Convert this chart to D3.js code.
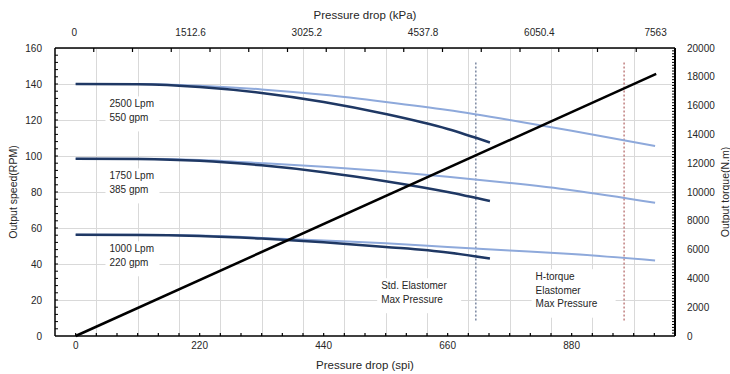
<!DOCTYPE html>
<html>
<head>
<meta charset="utf-8">
<script src="https://cdn.jsdelivr.net/npm/d3@7"></script>
<style>
  body { margin: 0; background: #fff; }
  text { font-family: "Liberation Sans", Arial, sans-serif; fill: #262626; }
</style>
</head>
<body>
<div id="chart"></div>
<script>
// pressure drop (spi) points along each curve
const stdPressure = [0, 110, 220, 330, 440, 550, 660, 735];
const htPressure = [0, 110, 220, 330, 440, 550, 660, 770, 880, 1028];

// output speed (RPM), standard elastomer (dark) and H-torque (light)
const std2500 = [140, 139.8, 138.3, 135, 130, 123.3, 115, 107.5];
const std1750 = [98.5, 98.3, 97.3, 94.8, 91, 86, 80, 75];
const std1000 = [56.2, 56.1, 55.5, 54.1, 52.1, 49.5, 46.4, 43];
const ht2500 = [140, 140, 139, 137, 134, 130, 125.5, 120, 114, 105.5];
const ht1750 = [98.5, 98.5, 97.8, 96, 94, 91.5, 88.5, 85, 81, 74];
const ht1000 = [56.2, 56.2, 55.8, 54.5, 53, 51.5, 49.5, 47.5, 45.5, 42];

// output torque (N.m)
const torquePressure = [0, 1030];
const torqueValues = [0, 18200];

// max pressure markers (spi)
const maxPressure = [710, 973];

const bottomTicks = [0, 220, 440, 660, 880];
const topTicks = [0, 1512.6, 3025.2, 4537.8, 6050.4, 7563];
const leftTicks = d3.range(0, 161, 20);
const rightTicks = d3.range(0, 20001, 2000);

const flowLabels = [
  { lines: ['2500 Lpm', '550 gpm'], x: 60, y: 127 },
  { lines: ['1750 Lpm', '385 gpm'], x: 60, y: 87 },
  { lines: ['1000 Lpm', '220 gpm'], x: 60, y: 46.5 }
];
const noteLabels = [
  { lines: ['Std. Elastomer', 'Max Pressure'], x: 542, y: 26 },
  { lines: ['H-torque', 'Elastomer', 'Max Pressure'], x: 816, y: 31 }
];

const width = 730, height = 374;
const margin = { left: 55, right: 55, top: 48, bottom: 38 };
const x0 = margin.left, x1 = width - margin.right;
const y0 = height - margin.bottom, y1 = margin.top;

const svg = d3.select('#chart').append('svg')
  .attr('width', width)
  .attr('height', height);

// bottom axis: labels sit half a grid step in, 220 spi every 3 steps
const step = 220 / 3;
const x = d3.scaleLinear().domain([-step / 2, -step / 2 + 15 * step]).range([x0, x1]);
const kStep = 1512.6 / 3;
const xTop = d3.scaleLinear().domain([-kStep / 2, -kStep / 2 + 16 * kStep]).range([x0, x1]);
const y = d3.scaleLinear().domain([0, 160]).range([y0, y1]);
const yRight = d3.scaleLinear().domain([0, 20000]).range([y0, y1]);

// gridlines
const grid = svg.append('g').attr('stroke', '#d9d9d9').attr('stroke-width', 1);
d3.range(1, 15).forEach(i => {
  const gx = Math.round(x(-step / 2 + i * step)) + 0.5;
  grid.append('line').attr('x1', gx).attr('x2', gx).attr('y1', y1).attr('y2', y0);
});
leftTicks.slice(1).forEach(v => {
  const gy = Math.round(y(v)) + 0.5;
  grid.append('line').attr('x1', x0).attr('x2', x1).attr('y1', gy).attr('y2', gy);
});

// max pressure dashed lines
const markerColors = ['#5a6a8a', '#b06060'];
svg.selectAll('.maxline')
  .data(maxPressure)
  .enter()
  .append('line')
  .attr('x1', d => x(d)).attr('x2', d => x(d))
  .attr('y1', y(152)).attr('y2', y(7.5))
  .attr('stroke', (d, i) => markerColors[i])
  .attr('stroke-width', 1.2)
  .attr('stroke-dasharray', '2,2');

// curves
const line = d3.line()
  .x(d => x(d[0]))
  .y(d => y(d[1]))
  .curve(d3.curveMonotoneX);

const series = [
  { px: htPressure, vals: ht2500, color: '#8ea9db', w: 2 },
  { px: htPressure, vals: ht1750, color: '#8ea9db', w: 2 },
  { px: htPressure, vals: ht1000, color: '#8ea9db', w: 2 },
  { px: stdPressure, vals: std2500, color: '#1f3864', w: 2.5 },
  { px: stdPressure, vals: std1750, color: '#1f3864', w: 2.5 },
  { px: stdPressure, vals: std1000, color: '#1f3864', w: 2.5 }
];
series.forEach(s => {
  svg.append('path')
    .datum(s.px.map((p, i) => [p, s.vals[i]]))
    .attr('d', line)
    .attr('fill', 'none')
    .attr('stroke', s.color)
    .attr('stroke-width', s.w);
});

// torque line on right axis
svg.append('path')
  .datum(torquePressure.map((p, i) => [p, torqueValues[i]]))
  .attr('d', d3.line().x(d => x(d[0])).y(d => yRight(d[1])))
  .attr('fill', 'none')
  .attr('stroke', '#000')
  .attr('stroke-width', 2.5);

// text boxes
function addBox(d, boxW) {
  const lh = 13.5;
  const g = svg.append('g');
  const bx = x(d.x), by = y(d.y);
  g.append('rect')
    .attr('x', bx - 4).attr('y', by - 11)
    .attr('width', boxW).attr('height', d.lines.length * lh + 8)
    .attr('fill', '#fff');
  d.lines.forEach((t, i) => {
    g.append('text')
      .attr('x', bx).attr('y', by + i * lh)
      .style('font-size', '10px')
      .text(t);
  });
}
flowLabels.forEach(d => addBox(d, 54));
noteLabels.forEach(d => addBox(d, 84));

// axes
const axisG = svg.append('g').attr('stroke', '#000');
axisG.append('line').attr('x1', x0).attr('x2', x1).attr('y1', y0).attr('y2', y0).attr('stroke-width', 1.5);
axisG.append('line').attr('x1', x0).attr('x2', x1).attr('y1', y1).attr('y2', y1).attr('stroke-width', 1.5);
axisG.append('line').attr('x1', x0).attr('x2', x0).attr('y1', y1).attr('y2', y0).attr('stroke-width', 1.5);
axisG.append('line').attr('x1', x1).attr('x2', x1).attr('y1', y1).attr('y2', y0).attr('stroke-width', 2);

// bottom ticks, every half step
d3.range(1, 30).forEach(i => {
  const tx = x(-step / 2 + i * step / 2);
  axisG.append('line').attr('x1', tx).attr('x2', tx).attr('y1', y0).attr('y2', y0 - 3).attr('stroke-width', 1.2);
});
// top ticks
d3.range(1, 16).forEach(i => {
  const tx = xTop(-kStep / 2 + i * kStep);
  axisG.append('line').attr('x1', tx).attr('x2', tx).attr('y1', y1).attr('y2', y1 + 4).attr('stroke-width', 1.2);
});
// left minor ticks
d3.range(4, 160, 4).forEach(v => {
  axisG.append('line').attr('x1', x0).attr('x2', x0 + 3).attr('y1', y(v)).attr('y2', y(v)).attr('stroke-width', 1);
});
// right minor ticks
d3.range(200, 20000, 200).forEach(v => {
  axisG.append('line').attr('x1', x1).attr('x2', x1 - 3).attr('y1', yRight(v)).attr('y2', yRight(v)).attr('stroke-width', 1);
});

// tick labels
svg.selectAll('.bl').data(bottomTicks).enter().append('text')
  .attr('x', d => x(d)).attr('y', y0 + 13)
  .attr('text-anchor', 'middle').style('font-size', '10px')
  .text(d => d);
svg.selectAll('.tl').data(topTicks).enter().append('text')
  .attr('x', d => xTop(d)).attr('y', y1 - 12)
  .attr('text-anchor', 'middle').style('font-size', '10px')
  .text(d => d);
svg.selectAll('.ll').data(leftTicks).enter().append('text')
  .attr('x', x0 - 13).attr('y', d => y(d) + 3.5)
  .attr('text-anchor', 'end').style('font-size', '10px')
  .text(d => d);
svg.selectAll('.rl').data(rightTicks).enter().append('text')
  .attr('x', x1 + 12).attr('y', d => yRight(d) + 3.5)
  .attr('text-anchor', 'start').style('font-size', '10px')
  .text(d => d);

// axis titles
svg.append('text')
  .attr('x', (x0 + x1) / 2).attr('y', 19)
  .attr('text-anchor', 'middle').style('font-size', '11.5px')
  .text('Pressure drop (kPa)');
svg.append('text')
  .attr('x', (x0 + x1) / 2).attr('y', 369)
  .attr('text-anchor', 'middle').style('font-size', '11.5px')
  .text('Pressure drop (spi)');
svg.append('text')
  .attr('transform', 'translate(17,' + ((y0 + y1) / 2) + ') rotate(-90)')
  .attr('text-anchor', 'middle').style('font-size', '10.5px')
  .text('Output speed(RPM)');
svg.append('text')
  .attr('transform', 'translate(729,' + ((y0 + y1) / 2) + ') rotate(-90)')
  .attr('text-anchor', 'middle').style('font-size', '10.5px')
  .text('Output torque(N.m)');
</script>
</body>
</html>
